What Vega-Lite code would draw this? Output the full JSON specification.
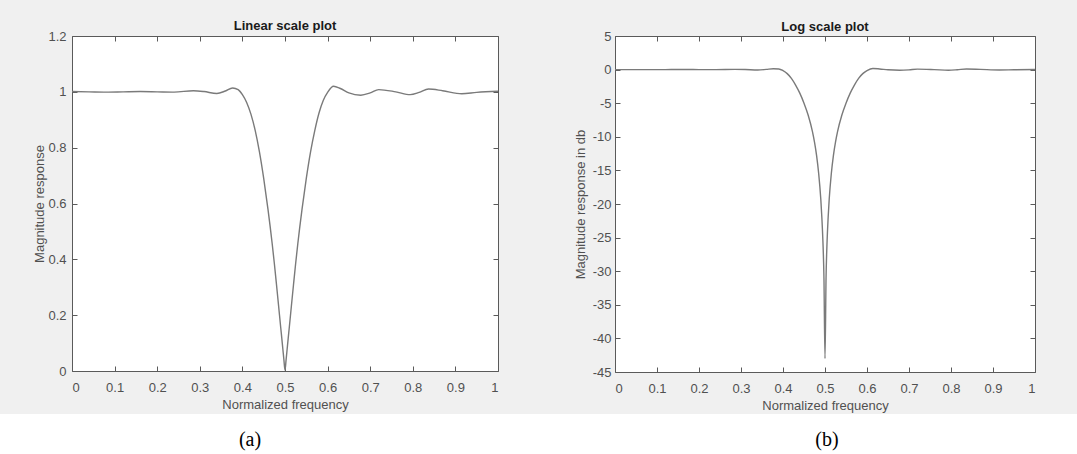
{
  "$schema": "https://vega.github.io/schema/vega-lite/v6.json",
  "background": "#f0f0f0",
  "padding": {"top": 19, "left": 0, "right": 0, "bottom": 0},
  "spacing": 1,
  "datasets": {
    "resp": [
      {"f": 0, "mag": 1.001, "db": 0.0},
      {"f": 0.04, "mag": 1.0, "db": 0.0},
      {"f": 0.08, "mag": 0.999, "db": -0.01},
      {"f": 0.12, "mag": 1.0, "db": 0.0},
      {"f": 0.16, "mag": 1.001, "db": 0.01},
      {"f": 0.2, "mag": 1.0, "db": 0.0},
      {"f": 0.24, "mag": 0.999, "db": -0.01},
      {"f": 0.285, "mag": 1.004, "db": 0.03},
      {"f": 0.31, "mag": 1.001, "db": 0.01},
      {"f": 0.34, "mag": 0.994, "db": -0.05},
      {"f": 0.36, "mag": 1.003, "db": 0.03},
      {"f": 0.377, "mag": 1.014, "db": 0.12},
      {"f": 0.39, "mag": 1.008, "db": 0.1},
      {"f": 0.4, "mag": 0.99, "db": -0.15},
      {"f": 0.41, "mag": 0.962, "db": -0.6},
      {"f": 0.42, "mag": 0.92, "db": -1.3},
      {"f": 0.43, "mag": 0.862, "db": -2.3},
      {"f": 0.44, "mag": 0.785, "db": -3.5},
      {"f": 0.45, "mag": 0.69, "db": -5.0},
      {"f": 0.46, "mag": 0.58, "db": -6.8},
      {"f": 0.47, "mag": 0.455, "db": -9.2},
      {"f": 0.475, "mag": 0.385, "db": -10.8},
      {"f": 0.48, "mag": 0.31, "db": -12.8},
      {"f": 0.485, "mag": 0.233, "db": -15.5},
      {"f": 0.49, "mag": 0.155, "db": -19.3},
      {"f": 0.4925, "mag": 0.117, "db": -22.0},
      {"f": 0.495, "mag": 0.078, "db": -25.5},
      {"f": 0.4975, "mag": 0.039, "db": -31.0},
      {"f": 0.5, "mag": 0.003, "db": -43.0},
      {"f": 0.5025, "mag": 0.039, "db": -31.0},
      {"f": 0.505, "mag": 0.078, "db": -25.5},
      {"f": 0.5075, "mag": 0.117, "db": -22.0},
      {"f": 0.51, "mag": 0.155, "db": -19.3},
      {"f": 0.515, "mag": 0.233, "db": -15.5},
      {"f": 0.52, "mag": 0.31, "db": -12.8},
      {"f": 0.525, "mag": 0.385, "db": -10.8},
      {"f": 0.53, "mag": 0.455, "db": -9.2},
      {"f": 0.54, "mag": 0.58, "db": -6.8},
      {"f": 0.55, "mag": 0.69, "db": -5.0},
      {"f": 0.56, "mag": 0.785, "db": -3.5},
      {"f": 0.57, "mag": 0.862, "db": -2.3},
      {"f": 0.58, "mag": 0.925, "db": -1.3},
      {"f": 0.59, "mag": 0.97, "db": -0.6},
      {"f": 0.6, "mag": 0.998, "db": -0.15},
      {"f": 0.614, "mag": 1.02, "db": 0.17},
      {"f": 0.63, "mag": 1.012, "db": 0.1},
      {"f": 0.65, "mag": 0.996, "db": -0.03},
      {"f": 0.678, "mag": 0.988, "db": -0.1},
      {"f": 0.7, "mag": 0.996, "db": -0.04},
      {"f": 0.72, "mag": 1.008, "db": 0.07},
      {"f": 0.76, "mag": 1.0, "db": 0.0},
      {"f": 0.794, "mag": 0.99, "db": -0.09},
      {"f": 0.815, "mag": 0.998, "db": -0.02},
      {"f": 0.837, "mag": 1.01, "db": 0.09},
      {"f": 0.87, "mag": 1.004, "db": 0.03},
      {"f": 0.915, "mag": 0.993, "db": -0.06},
      {"f": 0.95, "mag": 0.998, "db": -0.02},
      {"f": 1.0, "mag": 1.002, "db": 0.02}
    ],
    "captions": [
      {"cap": "(a)"},
      {"cap": "(b)"}
    ],
    "none": []
  },
  "config": {
    "font": "Liberation Sans",
    "view": {"stroke": "#5a5a5a", "strokeWidth": 1, "fill": "#ffffff"},
    "axis": {
      "domain": false,
      "grid": false,
      "labelFont": "Liberation Sans",
      "labelFontSize": 13,
      "labelColor": "#505050",
      "titleFont": "Liberation Sans",
      "titleFontSize": 13,
      "titleFontWeight": "normal",
      "titleColor": "#505050",
      "tickColor": "#5a5a5a",
      "tickSize": -5,
      "tickWidth": 1
    },
    "title": {"font": "Liberation Sans", "fontSize": 13, "fontWeight": "bold", "color": "#1a1a1a"}
  },
  "vconcat": [
    {
      "spacing": 30,
      "align": "each",
      "hconcat": [
        {
          "width": 3,
          "height": 1,
          "view": {"stroke": null, "fill": null},
          "data": {"name": "none"},
          "mark": "text"
        },
        {
          "width": 426,
          "height": 335,
          "title": {"text": "Linear scale plot", "offset": -3},
          "data": {"name": "resp"},
          "layer": [
            {
              "mark": {"type": "line", "color": "#7a7a7a", "strokeWidth": 1.4, "interpolate": "monotone"},
              "encoding": {
                "x": {"field": "f", "type": "quantitative", "scale": {"domain": [0, 1], "nice": false},
                      "axis": {"orient": "bottom", "title": "Normalized frequency", "values": [0, 0.1, 0.2, 0.3, 0.4, 0.5, 0.6, 0.7, 0.8, 0.9, 1], "format": "~g", "labelPadding": 15, "titlePadding": 4}},
                "y": {"field": "mag", "type": "quantitative", "scale": {"domain": [0, 1.2], "nice": false, "zero": false},
                      "axis": {"orient": "left", "title": "Magnitude response", "values": [0, 0.2, 0.4, 0.6, 0.8, 1, 1.2], "format": "~g", "labelPadding": 11, "titlePadding": 1}}
              }
            },
            {
              "mark": {"type": "line", "strokeOpacity": 0},
              "encoding": {
                "x": {"field": "f", "type": "quantitative",
                      "axis": {"orient": "top", "title": null, "labels": false, "values": [0, 0.1, 0.2, 0.3, 0.4, 0.5, 0.6, 0.7, 0.8, 0.9, 1]}},
                "y": {"field": "mag", "type": "quantitative",
                      "axis": {"orient": "right", "title": null, "labels": false, "values": [0, 0.2, 0.4, 0.6, 0.8, 1, 1.2]}}
              }
            }
          ],
          "resolve": {"axis": {"x": "independent", "y": "independent"}}
        },
        {
          "width": 420,
          "height": 336,
          "title": {"text": "Log scale plot", "offset": -4},
          "data": {"name": "resp"},
          "layer": [
            {
              "mark": {"type": "line", "color": "#7a7a7a", "strokeWidth": 1.4, "interpolate": "monotone"},
              "encoding": {
                "x": {"field": "f", "type": "quantitative", "scale": {"domain": [0, 1], "nice": false},
                      "axis": {"orient": "bottom", "title": "Normalized frequency", "values": [0, 0.1, 0.2, 0.3, 0.4, 0.5, 0.6, 0.7, 0.8, 0.9, 1], "format": "~g", "labelPadding": 15, "titlePadding": 4}},
                "y": {"field": "db", "type": "quantitative", "scale": {"domain": [-45, 5], "nice": false, "zero": false},
                      "axis": {"orient": "left", "title": ["", "Magnitude response in db"], "titleLineHeight": 41, "values": [-45, -40, -35, -30, -25, -20, -15, -10, -5, 0, 5], "labelExpr": "'' + datum.value", "labelPadding": 9, "titlePadding": 5}}
              }
            },
            {
              "mark": {"type": "line", "strokeOpacity": 0},
              "encoding": {
                "x": {"field": "f", "type": "quantitative",
                      "axis": {"orient": "top", "title": null, "labels": false, "values": [0, 0.1, 0.2, 0.3, 0.4, 0.5, 0.6, 0.7, 0.8, 0.9, 1]}},
                "y": {"field": "db", "type": "quantitative",
                      "axis": {"orient": "right", "title": null, "labels": false, "values": [-45, -40, -35, -30, -25, -20, -15, -10, -5, 0, 5]}}
              }
            }
          ],
          "resolve": {"axis": {"x": "independent", "y": "independent"}}
        }
      ]
    },
    {
      "width": 1077,
      "height": 41,
      "view": {"stroke": null, "fill": "#ffffff"},
      "data": {"name": "captions"},
      "mark": {"type": "text", "font": "Liberation Serif", "fontSize": 20, "color": "#000000", "baseline": "middle", "dy": 5},
      "encoding": {
        "x": {"field": "cap", "type": "nominal", "scale": {"type": "point", "padding": 0.4333, "align": 0.5}, "axis": null},
        "text": {"field": "cap"}
      }
    }
  ]
}
